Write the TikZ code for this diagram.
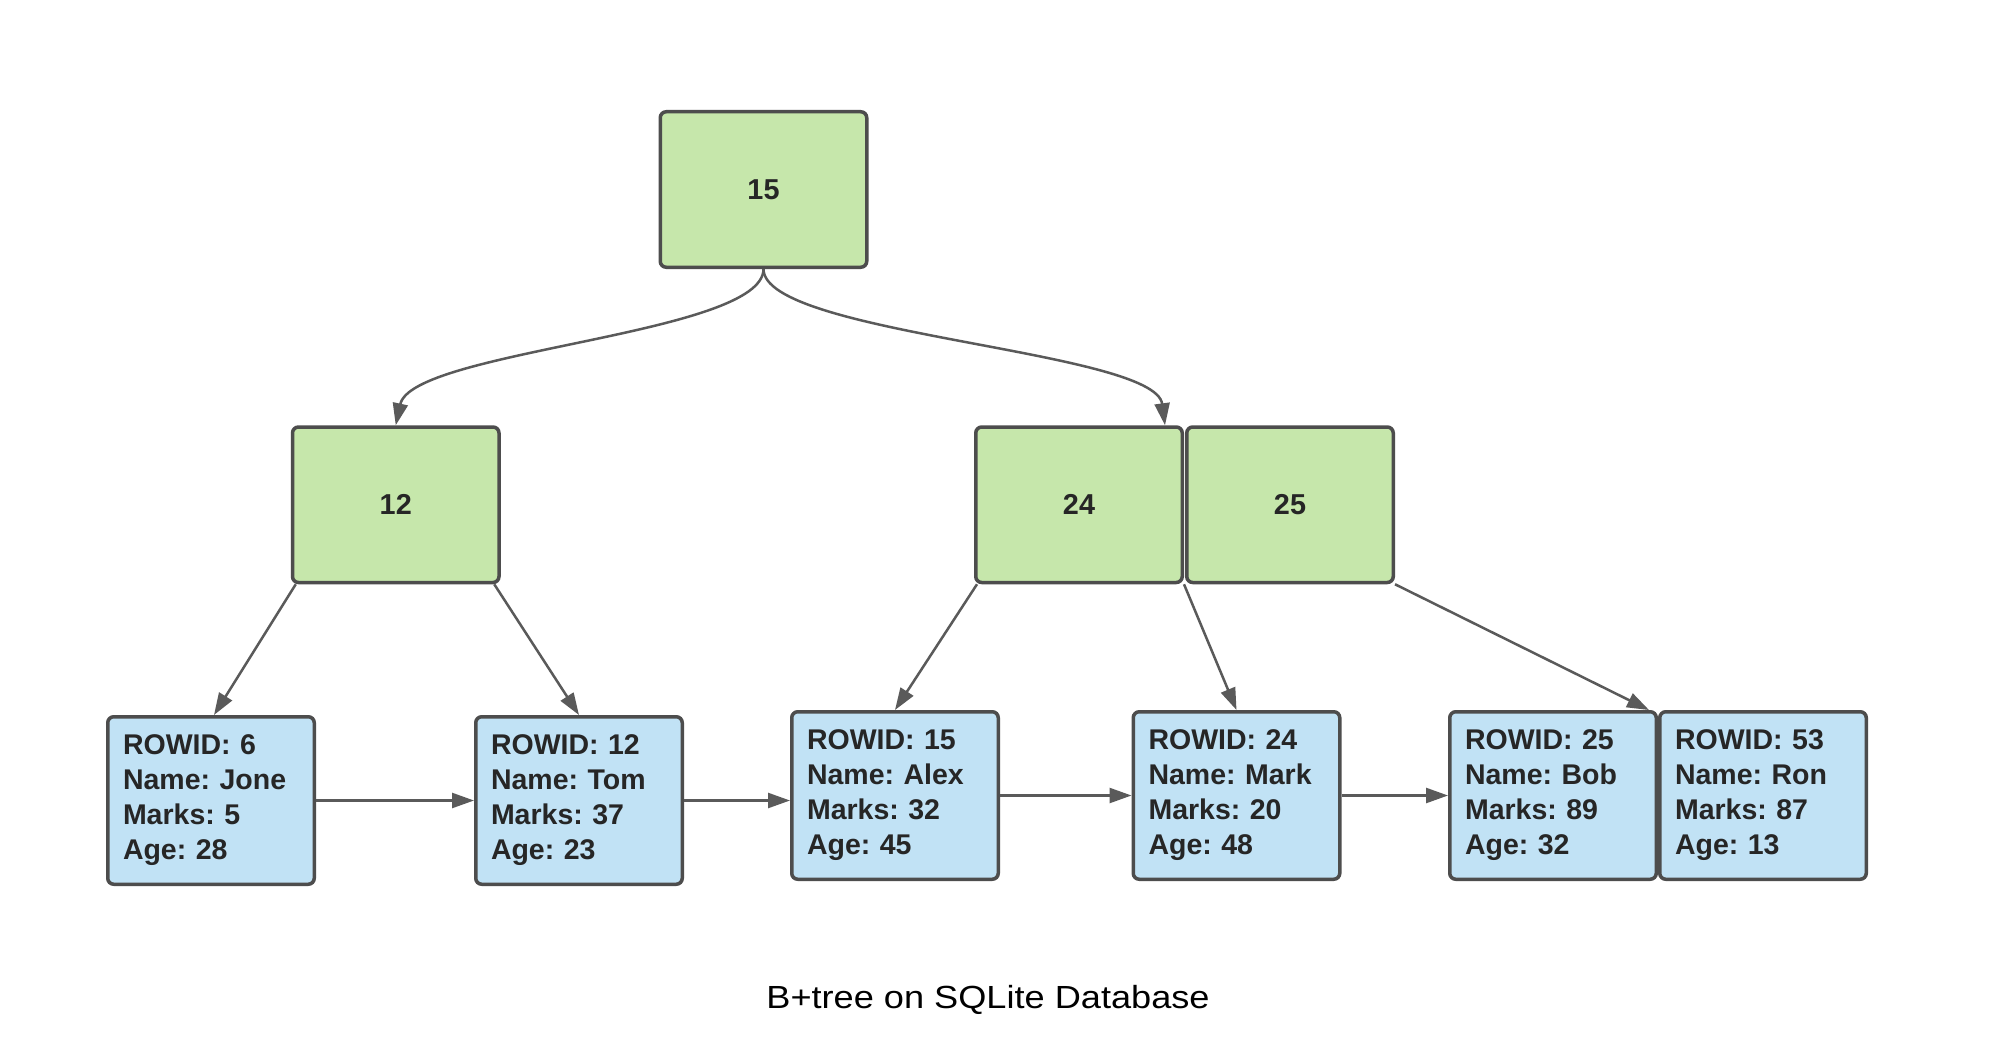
\documentclass[tikz,border=0pt]{standalone}
\usepackage{fontspec}
\setmainfont{Liberation Sans}
\usetikzlibrary{arrows.meta}
\definecolor{nodegreen}{HTML}{C6E7AB}
\definecolor{leafblue}{HTML}{C1E2F5}
\definecolor{edgegray}{HTML}{4D4D4D}
\definecolor{linegray}{HTML}{5A5A5A}
\definecolor{txt}{HTML}{262626}
\frenchspacing
\tikzset{
  keybox/.style={draw=edgegray, line width=3.5pt, fill=nodegreen, rounded corners=6pt,
    minimum width=206.5pt, minimum height=155.5pt, inner sep=0pt,
    font=\fontsize{28.8}{35}\selectfont\bfseries\frenchspacing, text=txt},
  leafbox/.style={draw=edgegray, line width=3.5pt, fill=leafblue, rounded corners=6pt,
    minimum width=206.5pt, minimum height=167.5pt, inner xsep=15.25pt, inner ysep=0pt,
    text width=176pt, align=left,
    font=\fontsize{28.5}{35}\selectfont\bfseries\frenchspacing, text=txt},
  link/.style={draw=linegray, line width=2.5pt, -{Triangle[length=22pt,width=15pt]}}
}
\begin{document}
\begin{tikzpicture}[x=1pt,y=-1pt]
\path[fill=white] (0,0) rectangle (1989,1062);
\useasboundingbox (0,0) rectangle (1989,1062);

\node[keybox] (root) at (763.5,189.5) {15};
\node[keybox] (n12) at (395.75,504.75) {12};
\node[keybox] (n24) at (1079,504.75) {24};
\node[keybox] (n25) at (1290,504.75) {25};

\node[leafbox] (l1) at (211,800.5) {ROWID: 6\\Name: Jone\\Marks: 5\\Age: 28};
\node[leafbox] (l2) at (579,800.5) {ROWID: 12\\Name: Tom\\Marks: 37\\Age: 23};
\node[leafbox] (l3) at (895,795.5) {ROWID: 15\\Name: Alex\\Marks: 32\\Age: 45};
\node[leafbox] (l4) at (1236.5,795.5) {ROWID: 24\\Name: Mark\\Marks: 20\\Age: 48};
\node[leafbox] (l5) at (1553,795.5) {ROWID: 25\\Name: Bob\\Marks: 89\\Age: 32};
\node[leafbox] (l6) at (1763,795.5) {ROWID: 53\\Name: Ron\\Marks: 87\\Age: 13};

\draw[link] (root.south) .. controls (763.5,335) and (412,350) .. (n12.north);
\draw[link] (root.south) .. controls (763.5,335) and (1155,350) .. ([xshift=-19pt]n24.north east);

\draw[link] ([xshift=5pt]n12.south west) -- ([xshift=3pt]l1.north);
\draw[link] ([xshift=-6.5pt]n12.south east) -- (l2.north);
\draw[link] ([xshift=3pt]n24.south west) -- (l3.north);
\draw[link] (n24.south east) -- (l4.north);
\draw[link] (n25.south east) -- ([xshift=-9pt]l5.north east);

\draw[link] (l1.east) -- (l2.west);
\draw[link] (l2.east) -- (l3.west |- l2.east);
\draw[link] (l3.east) -- (l4.west);
\draw[link] (l4.east) -- (l5.west);

\node[font=\fontsize{32}{38}\selectfont, anchor=base, text=black] (cap) at (988,1008)
  {\scalebox{1.13}[1]{B+tree on SQLite Database}};
\end{tikzpicture}
\end{document}
